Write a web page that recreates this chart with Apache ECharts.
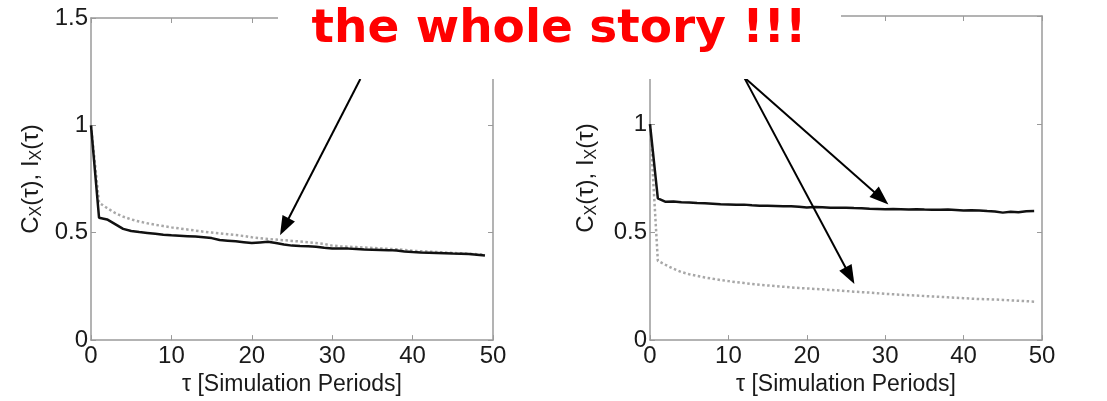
<!DOCTYPE html>
<html>
<head>
<meta charset="utf-8">
<script src="https://cdn.jsdelivr.net/npm/echarts@6/dist/echarts.min.js"></script>
<style>
html,body{margin:0;padding:0;background:#fff;}
#chart{width:1107px;height:401px;}
</style>
</head>
<body>
<div id="chart"></div>
<script>
// ---- data ----
const tau = [0,1,2,3,4,5,6,7,8,9,10,11,12,13,14,15,16,17,18,19,20,21,22,23,24,25,26,27,28,29,30,31,32,33,34,35,36,37,38,39,40,41,42,43,44,45,46,47,48,49];
const leftBlack = [1.0,0.57,0.562,0.54,0.518,0.508,0.503,0.499,0.495,0.491,0.488,0.486,0.484,0.482,0.479,0.475,0.466,0.463,0.460,0.456,0.452,0.455,0.458,0.452,0.445,0.440,0.438,0.437,0.435,0.430,0.427,0.427,0.426,0.424,0.422,0.421,0.420,0.419,0.417,0.413,0.410,0.408,0.407,0.406,0.405,0.403,0.402,0.401,0.398,0.394];
const leftGray = [1.0,0.64,0.615,0.592,0.575,0.562,0.552,0.544,0.537,0.531,0.525,0.52,0.515,0.51,0.505,0.501,0.497,0.493,0.489,0.485,0.479,0.475,0.471,0.468,0.465,0.462,0.459,0.456,0.452,0.448,0.440,0.437,0.435,0.433,0.431,0.429,0.427,0.425,0.423,0.420,0.416,0.414,0.412,0.410,0.408,0.406,0.404,0.402,0.400,0.398];
const rightBlack = [1.0,0.656,0.640,0.642,0.638,0.637,0.634,0.633,0.631,0.629,0.628,0.626,0.627,0.624,0.622,0.622,0.621,0.620,0.619,0.617,0.614,0.616,0.615,0.613,0.612,0.613,0.611,0.610,0.608,0.607,0.606,0.607,0.606,0.605,0.606,0.604,0.603,0.603,0.604,0.602,0.600,0.601,0.600,0.597,0.595,0.590,0.594,0.592,0.596,0.597];
const rightGray = [1.0,0.367,0.348,0.330,0.315,0.305,0.297,0.290,0.284,0.278,0.273,0.268,0.264,0.260,0.256,0.253,0.250,0.247,0.244,0.241,0.239,0.237,0.235,0.232,0.230,0.227,0.224,0.222,0.220,0.217,0.214,0.212,0.210,0.208,0.206,0.204,0.202,0.200,0.198,0.196,0.194,0.192,0.190,0.189,0.188,0.186,0.184,0.182,0.180,0.178];
const xTicks = [0,10,20,30,40,50];
const yTicks = [0,0.5,1,1.5];
const titleText = 'the whole story !!!';
const xName = 'τ [Simulation Periods]';
// arrows: [from, to] in data coordinates (to = centre of arrow head)
const leftArrows = [[[33.5,1.216],[24.05,0.528]]];
const rightArrows = [[[12.0,1.216],[29.5,0.657]], [[12.0,1.216],[25.5,0.298]]];

// ---- chart ----
const chart = echarts.init(document.getElementById('chart'), null, {renderer:'canvas'});
const FONT = "'Liberation Sans', Arial, Helvetica, sans-serif";
const AXIS_COLOR = '#9a9a9a';
const LABEL_COLOR = '#1a1a1a';

function xAx(grid, pos, showLabel, showName){
  return {
    type:'value', gridIndex:grid, position:pos, min:xTicks[0], max:xTicks[xTicks.length-1], interval:10,
    axisLine:{show:true, onZero:false, lineStyle:{color:AXIS_COLOR, width:1.5}},
    axisTick:{show:true, inside:true, length:5, lineStyle:{color:AXIS_COLOR, width:1}},
    splitLine:{show:false},
    axisLabel:{show:showLabel, color:LABEL_COLOR, fontSize:24, fontFamily:FONT, margin:4},
    name: showName ? xName : '', nameLocation:'middle', nameGap:30,
    nameTextStyle:{color:LABEL_COLOR, fontSize:23, fontFamily:FONT}
  };
}
function yAx(grid, pos, showLabel, showName, gap){
  return {
    type:'value', gridIndex:grid, position:pos, min:yTicks[0], max:yTicks[yTicks.length-1], interval:0.5,
    axisLine:{show:true, onZero:false, lineStyle:{color:AXIS_COLOR, width:1.5}},
    axisTick:{show:true, inside:true, length:5, lineStyle:{color:AXIS_COLOR, width:1}},
    splitLine:{show:false},
    axisLabel:{show:showLabel, color:LABEL_COLOR, fontSize:24, fontFamily:FONT, margin:3,
      formatter: v => String(v)},
    name: showName ? '{a|C}{s|X}{a|(τ), I}{s|X}{a|(τ)}' : '', nameLocation:'middle', nameGap:gap, nameRotate:90,
    nameTextStyle:{color:LABEL_COLOR, fontFamily:FONT,
      rich:{a:{fontSize:24, lineHeight:28, fontFamily:FONT, color:LABEL_COLOR},
            s:{fontSize:16, lineHeight:15, verticalAlign:'bottom', fontFamily:FONT, color:LABEL_COLOR}}}
  };
}
function arrowMark(list){
  return {
    silent:true, symbol:['none','triangle'], symbolSize:[14,19], animation:false,
    label:{show:false},
    lineStyle:{color:'#000', width:2, type:'solid'},
    itemStyle:{color:'#000'},
    emphasis:{disabled:true},
    data:list.map(a=>[{coord:a[0]},{coord:a[1]}])
  };
}
function ser(xi, yi, vals, color, width, type, mark){
  const s = {
    type:'line', xAxisIndex:xi, yAxisIndex:yi, showSymbol:false, symbol:'none', animation:false,
    data: tau.map((t,i)=>[t, vals[i]]),
    lineStyle:{color:color, width:width, type:type}, z:3
  };
  if(mark) s.markLine = mark;
  return s;
}

const option = {
  backgroundColor:'#fff',
  animation:false,
  grid:[
    {left:91, right:1107-493, top:18, bottom:401-345},
    {left:650, right:1107-1042, top:16, bottom:401-343}
  ],
  xAxis:[ xAx(0,'bottom',true,true), xAx(0,'top',false,false), xAx(1,'bottom',true,true), xAx(1,'top',false,false) ],
  yAxis:[ yAx(0,'left',true,true,46), yAx(0,'right',false,false,0), yAx(1,'left',true,true,50), yAx(1,'right',false,false,0) ],
  series:[
    ser(0,0,leftGray,'#a8a8a8',2.5,'dotted'),
    ser(0,0,leftBlack,'#111',2.5,'solid', arrowMark(leftArrows)),
    ser(2,2,rightGray,'#a8a8a8',2.5,'dotted'),
    ser(2,2,rightBlack,'#111',2.5,'solid', arrowMark(rightArrows))
  ],
  graphic:[
    {type:'rect', shape:{x:278, y:0, width:841-278, height:79}, style:{fill:'#fff'}, z:50, silent:true},
    {type:'text', x:559, y:30, z:60, silent:true,
      style:{text:titleText, fill:'#ff0000', font:"bold 47px 'DejaVu Sans', Verdana, sans-serif", align:'center', verticalAlign:'middle'}}
  ]
};
chart.setOption(option);
</script>
</body>
</html>
